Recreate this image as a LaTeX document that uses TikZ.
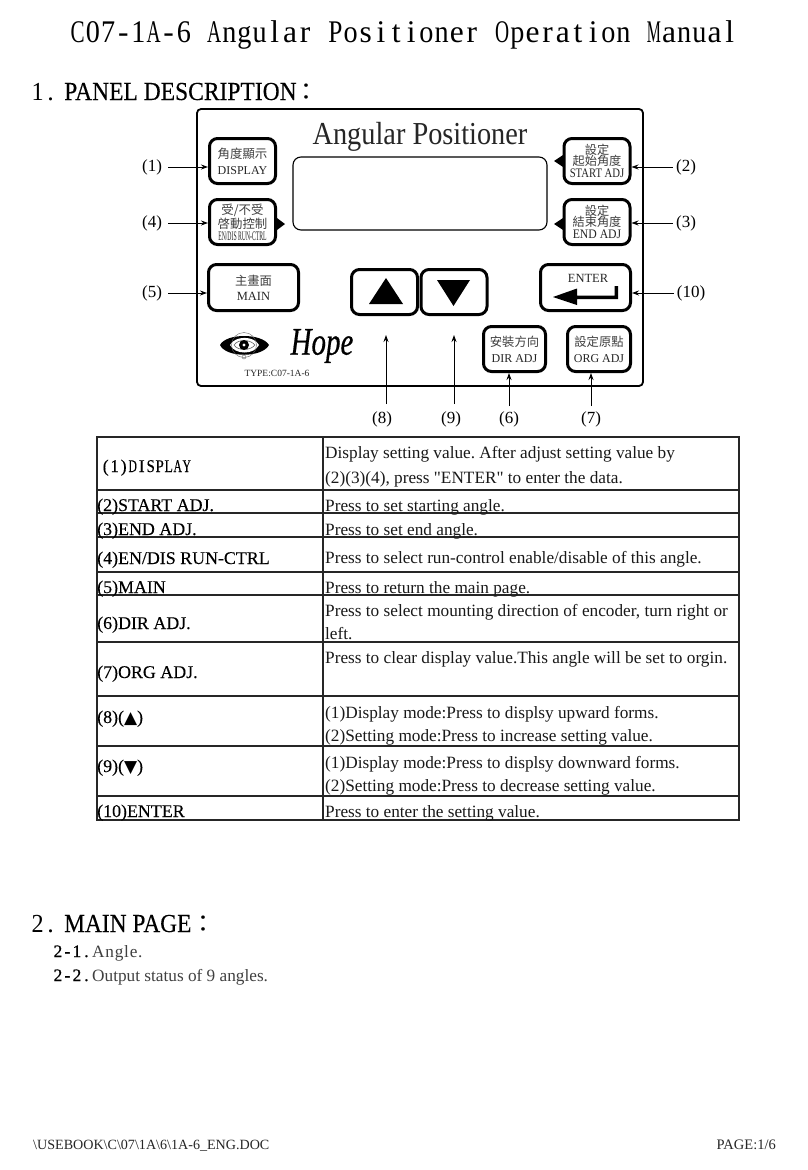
\documentclass[tikz,border=0pt]{standalone}
\usepackage{fontspec}
\setmainfont{Liberation Serif}
\newfontfamily\cjk{Noto Sans CJK TC}
\newfontfamily\djv{DejaVu Sans}
\newfontfamily\plainq{Liberation Serif}
\newfontfamily\spacedb[LetterSpace=4.5]{Liberation Serif}
\newfontfamily\fakeb[FakeBold=0.2]{Liberation Serif}
\newfontfamily\fakebb[FakeBold=0.6]{Liberation Serif}
\newfontfamily\hopefont[FakeBold=0.5]{Liberation Serif Italic}
\usetikzlibrary{arrows.meta}
\newcommand\fs[1]{\fontsize{#1}{#1}\selectfont}
\newcommand\cj[2]{{\cjk\fs{#1}\color{black!75}#2}}
\newcommand\lt[2]{{\fs{#1}\color{black!85}#2}}
\makeatletter
\newsavebox\mc@box
\newlength\mc@wd
\newlength\mc@lim
\newcommand\mc@cell[1]{\sbox\mc@box{#1}\ifdim\wd\mc@box>\mc@lim\relax
  \makebox[\mc@wd][c]{\resizebox{\mc@lim}{\height}{\usebox\mc@box}}\else
  \makebox[\mc@wd][c]{\usebox\mc@box}\fi}
\newcommand\monos[2]{\setlength\mc@wd{#1pt}\setlength\mc@lim{0.93\mc@wd}\@tfor\mc@c:=#2\do{\mc@cell{\mc@c}}}
\makeatother
\tikzset{
  btn/.style={draw=black,line width=3pt,rounded corners=8pt,fill=white,inner sep=0pt,align=center,minimum width=#1,font={\fs{12}\lineskiplimit=-20pt\relax}},
  btn/.default=66pt,
  ptr/.style={-{Stealth[length=7pt,width=5pt]},line width=0.9pt},
  lbl/.style={font=\fs{17},inner sep=0pt},
  tr/.style={anchor=base west,inner sep=0pt,font=\frenchspacing\fs{17.25},color=black!90},
  tl/.style={anchor=base west,inner sep=0pt,font=\fakeb\fs{17.9},color=black},
  rule/.style={line width=1.3pt,draw=black!85},
  head/.style={anchor=base west,inner sep=0pt,font=\fakeb\fs{26}},
  hmono/.style={anchor=base west,inner sep=0pt,font=\fs{26}},
  smono/.style={anchor=base west,inner sep=0pt,font=\fakebb\fs{17.5}},
}
\begin{document}
\begin{tikzpicture}[x=1pt,y=-1pt]
\useasboundingbox (0,0) rectangle (808,1170);
\fill[white] (0,0) rectangle (808,1170);
% title
\node[anchor=base west,inner sep=0pt,font=\fs{31.5}] (title) at (70,42) {\monos{15.16}{C07-1A-6~Angular~Positioner~Operation~Manual}};
\node[hmono] (h1n) at (31,100) {\monos{13}{1.}};
\node[head] (h1) at (64,100) {\scalebox{0.905}[1]{PANEL DESCRIPTION}};
\node[anchor=base,inner sep=0pt,font=\cjk\fs{24}] (h1c) at (306,100) {：};
% panel
\draw[line width=1.8pt,rounded corners=4pt] (197,109) rectangle (643,386);
\node[inner sep=0pt,font=\fs{32},color=black!85] (ptitle) at (420,137) {\scalebox{0.885}[1]{Angular Positioner}};
\node[draw,line width=1.1pt,rounded corners=8pt,minimum width=254pt,minimum height=73pt,inner sep=0pt] (screen) at (420,193.5) {};
% buttons
\node[btn,minimum height=45pt] (bDisplay) at (242.5,161) {\cj{12.4}{角度顯示}\\[4pt]\lt{12}{DISPLAY}};
\node[btn,minimum height=45pt] (bEnDis) at (242.5,222) {\cj{12.4}{受/不受}\\[2pt]\cj{12.4}{啓動控制}\\[0pt]\scalebox{0.44}[1]{\lt{13}{EN/DIS RUN-CTRL}}};
\node[btn=90pt,minimum height=46pt] (bMain) at (253.5,287.5) {\cj{12.3}{主畫面}\\[3pt]\lt{12.5}{MAIN}};
\node[btn,minimum height=45pt] (bUp) at (384.5,292) {};
\node[btn,minimum height=45pt] (bDown) at (454,292) {};
\node[btn,minimum height=45pt] (bStart) at (597,161) {\cj{12.2}{設定}\\[-1pt]\cj{12.2}{起始角度}\\[0pt]\scalebox{0.82}[1]{\lt{13}{START ADJ}}};
\node[btn,minimum height=45pt] (bEnd) at (597,222) {\cj{12.2}{設定}\\[-1pt]\cj{12.2}{結束角度}\\[0pt]\scalebox{0.9}[1]{\lt{13}{END ADJ}}};
\node[btn=90pt,minimum height=46pt] (bEnter) at (585.5,287.5) {};
\node[btn=62pt,minimum height=45pt] (bDir) at (514.5,349) {\cj{12.3}{安裝方向}\\[4pt]\lt{12}{DIR ADJ}};
\node[btn=63pt,minimum height=45pt] (bOrg) at (599,349) {\cj{12.3}{設定原點}\\[4pt]\lt{12}{ORG ADJ}};
% button glyphs
\fill (369,304) -- (403,304) -- (386,278) -- cycle;
\fill (437,280) -- (470,280) -- (453.5,306) -- cycle;
\fill (277,218) -- (285,224) -- (277,230) -- cycle;
\fill (563,155) -- (554,161) -- (563,167) -- cycle;
\fill (563,218) -- (554,224) -- (563,230) -- cycle;
\node[inner sep=0pt,font=\fs{12.5},color=black!85] (tEnter) at (588,278) {ENTER};
\fill (553,297) -- (577,288.5) -- (577,295.5) -- (614.5,295.5) -- (614.5,286) -- (618,286) -- (618,299) -- (577,299) -- (577,305) -- cycle;
% logo
\fill (220,345) .. controls (226,333) and (262,333) .. (269,345) .. controls (262,358) and (226,358) .. (220,345) -- cycle;
\fill[white] (230,345) .. controls (235,335.5) and (254,335.5) .. (259,345) .. controls (254,355) and (235,355) .. (230,345) -- cycle;
\draw[line width=0.4pt,black!60] (244,345) circle (12.5pt);
\draw[line width=0.6pt,black!60] (234,345) .. controls (238,339) and (250,339) .. (255,345) .. controls (250,351) and (238,351) .. (234,345) -- cycle;
\fill (244,345) circle (5pt);
\fill[white] (244,345) circle (1.6pt);
\draw[line width=0.4pt,black!60] (244,357) circle (2pt);
\node[inner sep=0pt,font=\hopefont\fs{29}] (hope) at (322,346) {\scalebox{1}[1.35]{Hope}};
\node[inner sep=0pt,font=\fs{9.5},color=black!85] (ptype) at (277,373) {TYPE:C07-1A-6};
% callouts
\node[lbl] (l1) at (152,167) {(1)};
\node[lbl] (l4) at (152,223) {(4)};
\node[lbl] (l5) at (152,293) {(5)};
\node[lbl] (l2) at (686,167) {(2)};
\node[lbl] (l3) at (686,223) {(3)};
\node[lbl] (l10) at (691,293) {(10)};
\node[lbl] (l8) at (382,419) {(8)};
\node[lbl] (l9) at (451,419) {(9)};
\node[lbl] (l6) at (509,419) {(6)};
\node[lbl] (l7) at (591,419) {(7)};
\coordinate (e8) at (386,335);
\coordinate (e9) at (454,335);
\coordinate (s8) at (386,404);
\coordinate (s9) at (454,404);
\draw[ptr,shorten <=6pt] (l1.east) -- (bDisplay.west |- l1.east);
\draw[ptr,shorten <=6pt] (l4.east) -- (bEnDis.west |- l4.east);
\draw[ptr,shorten <=6pt] (l5.east) -- (bMain.west |- l5.east);
\draw[ptr,shorten <=3pt] (l2.west) -- (bStart.east |- l2.west);
\draw[ptr,shorten <=3pt] (l3.west) -- (bEnd.east |- l3.west);
\draw[ptr,shorten <=3pt] (l10.west) -- (bEnter.east |- l10.west);
\draw[ptr] (s8) -- (e8);
\draw[ptr] (s9) -- (e9);
\draw[ptr,shorten <=5pt] (l6.north) -- (bDir.south -| l6.north);
\draw[ptr,shorten <=5pt] (l7.north) -- (bOrg.south -| l7.north);
% table
\draw[rule] (97,437) rectangle (739,820);
\draw[rule] (323,437) -- (323,820);
\foreach \yy in {490,513,537,572,595,642,696,746,796} \draw[rule] (97,\yy) -- (739,\yy);
\node[tl] (a1) at (101,472) {\monos{9}{(1)DISPLAY}};
\node[tl] (a2) at (97,511) {(2)START ADJ.};
\node[tl] (a3) at (97,535) {(3)END ADJ.};
\node[tl] (a4) at (97,564) {(4)EN/DIS RUN-CTRL};
\node[tl] (a5) at (97,593) {(5)MAIN};
\node[tl] (a6) at (97,629) {(6)DIR ADJ.};
\node[tl] (a7) at (97,678) {(7)ORG ADJ.};
\node[tl] (a8) at (97,723) {(8)({\djv\fs{17}▲})};
\node[tl] (a9) at (97,772) {(9)({\djv\fs{17}▼})};
\node[tl] (a10) at (97,817) {(10)ENTER};
\node[tr] (b1a) at (325,458) {Display setting value. After adjust setting value by};
\node[tr] (b1b) at (325,483) {(2)(3)(4), press {\plainq"}ENTER{\plainq"} to enter the data.};
\node[tr] (b2) at (325,511) {Press to set starting angle.};
\node[tr] (b3) at (325,535) {Press to set end angle.};
\node[tr] (b4) at (325,563) {Press to select run-control enable/disable of this angle.};
\node[tr] (b5) at (325,593) {Press to return the main page.};
\node[tr] (b6a) at (325,616) {Press to select mounting direction of encoder, turn right or};
\node[tr] (b6b) at (325,639) {left.};
\node[tr] (b7) at (325,663) {Press to clear display value.This angle will be set to orgin.};
\node[tr] (b8a) at (325,718) {(1)Display mode:Press to displsy upward forms.};
\node[tr] (b8b) at (325,741) {(2)Setting mode:Press to increase setting value.};
\node[tr] (b9a) at (325,768) {(1)Display mode:Press to displsy downward forms.};
\node[tr] (b9b) at (325,791) {(2)Setting mode:Press to decrease setting value.};
\node[tr] (b10) at (325,817) {Press to enter the setting value.};
% section 2
\node[hmono] (h2n) at (31,932) {\monos{13}{2.}};
\node[head] (h2) at (64,932) {\scalebox{0.9}[1]{MAIN PAGE}};
\node[anchor=base,inner sep=0pt,font=\cjk\fs{24}] (h2c) at (203,932) {：};
\node[smono] (s1) at (53,957) {\monos{9.5}{2-1.}};
\node[tr,color=black!75] (s1t) at (92,957) {\spacedb Angle.};
\node[smono] (s2) at (53,981) {\monos{9.5}{2-2.}};
\node[tr,color=black!75] (s2t) at (92,981) {Output status of 9 angles.};
% footer
\node[anchor=base west,inner sep=0pt,font=\fs{14.1},color=black!85] (fl) at (33,1149) {\textbackslash USEBOOK\textbackslash C\textbackslash 07\textbackslash 1A\textbackslash 6\textbackslash 1A-6\_ENG.DOC};
\node[anchor=base east,inner sep=0pt,font=\fs{14.5},color=black!85] (fr) at (776,1149) {PAGE:1/6};
\end{tikzpicture}
\end{document}
